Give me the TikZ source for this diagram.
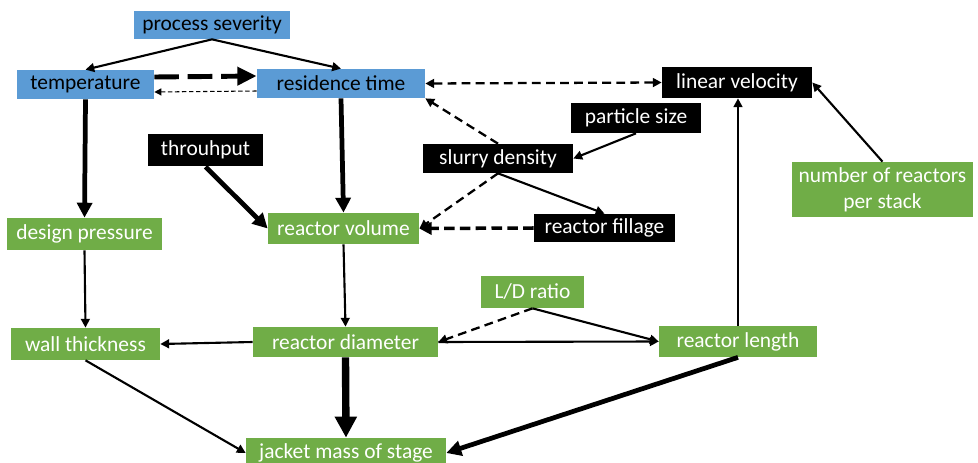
\documentclass[tikz,border=0pt]{standalone}
\usepackage{fontspec}
\setmainfont{Carlito}
\usetikzlibrary{arrows.meta}

\definecolor{boxBlue}{RGB}{91,155,213}
\definecolor{boxGreen}{RGB}{112,173,71}

\begin{document}
\begin{tikzpicture}[x = 0.02cm, y = -0.02cm,
		box/.style = {inner sep = 0pt, align = center, font = \fontsize{12.2}{15}\selectfont},
		blueBox/.style = {box, fill = boxBlue, text = black},
		greenBox/.style = {box, fill = boxGreen, text = white},
		blackBox/.style = {box, fill = black, text = white},
		link/.style = {line width = 1.2pt, -{Triangle[length = 5pt, width = 5pt]}},
		boldLink/.style = {line width = 2.7pt, -{Triangle[length = 8.5pt, width = 8.5pt]}},
		heavyLink/.style = {line width = 4.2pt, -{Triangle[length = 12pt, width = 12pt]}},
		dashLink/.style = {link, line width = 1.3pt, dash pattern = on 5pt off 3pt}]
	
		\useasboundingbox (0, 0) rectangle (978, 463);
		
		\node[blueBox, minimum width = 3.12cm, minimum height = 0.56cm] (severity) at (212, 25) {process severity};
		\node[blueBox, minimum width = 2.74cm, minimum height = 0.58cm] (temperature) at (85.5, 84.5) {temperature};
		\node[blueBox, minimum width = 3.36cm, minimum height = 0.58cm] (residence) at (341, 83.5) {residence time};
		
		\node[blackBox, minimum width = 3.0cm, minimum height = 0.62cm] (velocity) at (737, 82.5) {linear velocity};
		\node[blackBox, minimum width = 2.6cm, minimum height = 0.6cm] (particle) at (636, 118) {particle size};
		\node[blackBox, minimum width = 2.3cm, minimum height = 0.66cm] (throughput) at (205.5, 150) {throuhput};
		\node[blackBox, minimum width = 3.0cm, minimum height = 0.58cm] (slurry) at (498, 158.5) {slurry density};
		\node[blackBox, minimum width = 2.82cm, minimum height = 0.56cm] (fillage) at (604.5, 228) {reactor fillage};
		
		\node[greenBox, minimum width = 3.62cm, minimum height = 1.1cm] (reactors) at (882.5, 189.5) {number of reactors\\per stack};
		\node[greenBox, minimum width = 3.1cm, minimum height = 0.64cm] (pressure) at (84.5, 234) {design pressure};
		\node[greenBox, minimum width = 3.02cm, minimum height = 0.62cm] (volume) at (343.5, 228.5) {reactor volume};
		\node[greenBox, minimum width = 2.06cm, minimum height = 0.64cm] (ratio) at (532.5, 292) {L/D ratio};
		\node[greenBox, minimum width = 2.98cm, minimum height = 0.64cm] (wall) at (85.5, 344) {wall thickness};
		\node[greenBox, minimum width = 3.7cm, minimum height = 0.6cm] (diameter) at (345.5, 342) {reactor diameter};
		\node[greenBox, minimum width = 3.16cm, minimum height = 0.62cm] (length) at (738, 341.5) {reactor length};
		\node[greenBox, minimum width = 4.0cm, minimum height = 0.6cm] (jacket) at (346, 453) {jacket mass of stage};
		
		\draw[link] (severity.south) -- (temperature.north);
		\draw[link] (severity.south) -- (residence.north);
		
		\draw[line width = 2.8pt, dash pattern = on 14pt off 5pt, -{Triangle[length = 11pt, width = 10pt]}]
			([yshift = 0.15cm]temperature.east) -- ([yshift = 0.15cm]residence.west);
		\draw[line width = 0.6pt, dash pattern = on 2.5pt off 1.5pt, -{Triangle[length = 4pt, width = 4pt]}]
			([yshift = -0.15cm]residence.west) -- ([yshift = -0.15cm]temperature.east);
		
		\draw[dashLink, {Triangle[length = 5pt, width = 5pt]}-{Triangle[length = 5pt, width = 5pt]}] (residence.east) -- (velocity.west);
		\draw[dashLink] (slurry.north) -- (residence.south east);
		\draw[link] (particle.south) -- (slurry.east);
		\draw[dashLink] (slurry.south) -- (volume.east);
		\draw[link] (slurry.south) -- (fillage.north);
		\draw[line width = 2pt, dash pattern = on 6pt off 3pt, -{Triangle[length = 7pt, width = 7pt]}] (fillage.west) -- (volume.east);
		
		\draw[boldLink] (temperature.south) -- (pressure.north);
		\draw[boldLink] (residence.south) -- (volume.north);
		\draw[boldLink] (throughput.south) -- (volume.west);
		
		\draw[link] (pressure.south) -- (wall.north);
		\draw[link] (volume.south) -- (diameter.north);
		\draw[link] (diameter.west) -- (wall.east);
		
		\draw[dashLink] (ratio.south) -- (diameter.east);
		\draw[link] (ratio.south) -- (length.west);
		\draw[link] (diameter.east) -- (length.west);
		
		\draw[link] (length.north) -- (length.north |- velocity.south);
		\draw[link] (reactors.north) -- (velocity.east);
		
		\draw[link] (wall.south) -- (jacket.west);
		\draw[heavyLink] (diameter.south) -- (jacket.north);
		\draw[boldLink] (length.south) -- (jacket.east);
	
	\end{tikzpicture}
\end{document}
